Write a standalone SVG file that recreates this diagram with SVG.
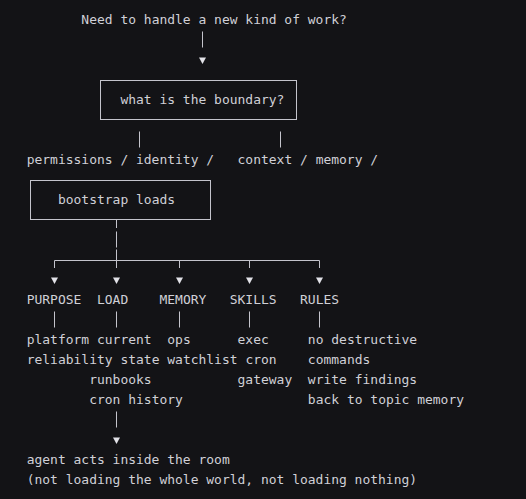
<svg xmlns="http://www.w3.org/2000/svg" width="526" height="499" viewBox="0 0 526 499">
<style>
text{font-family:"DejaVu Sans Mono","Liberation Mono",monospace;font-size:12.97px;fill:#d0d0d7;white-space:pre}
.ln{stroke:#c4c4cc;stroke-width:1;fill:none}
.box{stroke:#c4c4cc;stroke-width:1;fill:none}
.ah{fill:#e2e2e8}
</style>
<defs>
<polygon id="tri" points="-3.5,0 3.5,0 0,6.5"/>
</defs>
<rect width="526" height="499" fill="#131316"/>
<g id="connectors">
<line class="ln" x1="202.5" y1="31.5" x2="202.5" y2="47.5"/>
<use href="#tri" class="ah" x="202.5" y="57.5"/>
<line class="ln" x1="139.5" y1="131.5" x2="139.5" y2="147.5"/>
<line class="ln" x1="280.5" y1="131.5" x2="280.5" y2="147.5"/>
<line class="ln" x1="116.5" y1="220" x2="116.5" y2="228"/>
<line class="ln" x1="116.5" y1="231.5" x2="116.5" y2="247.5"/>
<line class="ln" x1="116.5" y1="249.5" x2="116.5" y2="268"/>
<line class="ln" x1="54.5" y1="260.5" x2="319.5" y2="260.5"/>
<line class="ln" x1="54.5" y1="260.5" x2="54.5" y2="268"/>
<line class="ln" x1="179.5" y1="260.5" x2="179.5" y2="268"/>
<line class="ln" x1="249.5" y1="260.5" x2="249.5" y2="268"/>
<line class="ln" x1="319.5" y1="260.5" x2="319.5" y2="268"/>
<use href="#tri" class="ah" x="54.5" y="277.5"/>
<use href="#tri" class="ah" x="116.5" y="277.5"/>
<use href="#tri" class="ah" x="179.5" y="277.5"/>
<use href="#tri" class="ah" x="249.5" y="277.5"/>
<use href="#tri" class="ah" x="319.5" y="277.5"/>
<line class="ln" x1="54.5" y1="311.5" x2="54.5" y2="327.5"/>
<line class="ln" x1="116.5" y1="311.5" x2="116.5" y2="327.5"/>
<line class="ln" x1="179.5" y1="311.5" x2="179.5" y2="327.5"/>
<line class="ln" x1="249.5" y1="311.5" x2="249.5" y2="327.5"/>
<line class="ln" x1="319.5" y1="311.5" x2="319.5" y2="327.5"/>
<line class="ln" x1="116.5" y1="411.5" x2="116.5" y2="427.5"/>
<use href="#tri" class="ah" x="116.5" y="437.5"/>
</g>
<g id="question">
<text x="81.37" y="24">Need to handle a new kind of work?</text>
</g>
<g id="boundary">
<rect class="box" x="100.5" y="80.5" width="196" height="39"/>
<text x="120.42" y="104">what is the boundary?</text>
</g>
<g id="permissions">
<text x="26.7" y="164">permissions / identity /</text>
</g>
<g id="context">
<text x="237.57" y="164">context / memory /</text>
</g>
<g id="bootstrap">
<rect class="box" x="30.5" y="180.5" width="180" height="39"/>
<text x="57.94" y="204">bootstrap loads</text>
</g>
<g id="purpose">
<text x="26.7" y="304">PURPOSE</text>
<text x="26.7" y="344">platform</text>
<text x="26.7" y="364">reliability</text>
</g>
<g id="load">
<text x="96.99" y="304">LOAD</text>
<text x="96.99" y="344">current</text>
<text x="120.42" y="364">state</text>
<text x="89.18" y="384">runbooks</text>
<text x="89.18" y="404">cron history</text>
</g>
<g id="memory">
<text x="159.47" y="304">MEMORY</text>
<text x="167.28" y="344">ops</text>
<text x="167.28" y="364">watchlist</text>
</g>
<g id="skills">
<text x="229.76" y="304">SKILLS</text>
<text x="237.57" y="344">exec</text>
<text x="245.38" y="364">cron</text>
<text x="237.57" y="384">gateway</text>
</g>
<g id="rules">
<text x="300.05" y="304">RULES</text>
<text x="307.86" y="344">no destructive</text>
<text x="307.86" y="364">commands</text>
<text x="307.86" y="384">write findings</text>
<text x="307.86" y="404">back to topic memory</text>
</g>
<g id="agent">
<text x="26.7" y="464">agent acts inside the room</text>
<text x="26.7" y="484">(not loading the whole world, not loading nothing)</text>
</g>
</svg>
